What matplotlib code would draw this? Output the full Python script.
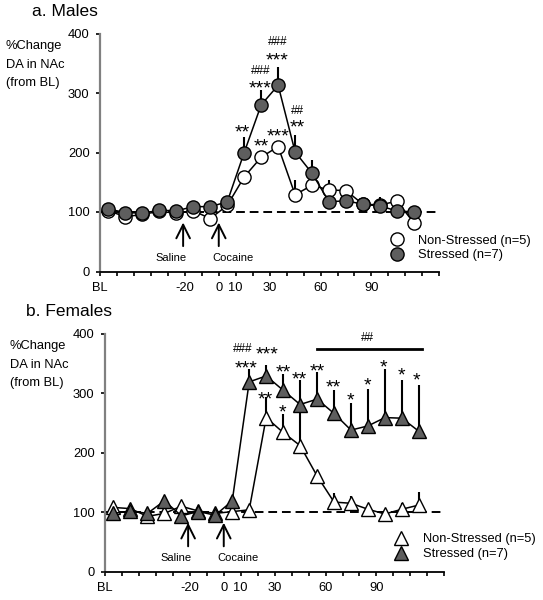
import numpy as np
import matplotlib.pyplot as plt
from matplotlib.transforms import offset_copy

plt.rcParams['font.family'] = ['Liberation Sans', 'DejaVu Sans']

# sampling times (min), BL = baseline
times = [-65, -55, -45, -35, -25, -15, -5, 5, 15, 25, 35, 45, 55, 65, 75, 85, 95, 105, 115]
tick_pos = list(range(-70, 131, 10))
tick_labels = {-70: 'BL', -20: '-20', 0: '0', 10: '10', 30: '30', 60: '60', 90: '90'}
y_ticks = [0, 100, 200, 300, 400]

# a. Males
male_ctrl = [102, 92, 96, 101, 98, 102, 89, 111, 159, 192, 210, 129, 145, 137, 136, 113, 112, 118, 82]
male_ctrl_err = [3, 3, 3, 3, 3, 4, 4, 5, 6, 5, 8, 25, 15, 17, 8, 5, 5, 7, 5]
male_str = [105, 99, 98, 103, 102, 109, 109, 117, 200, 280, 313, 201, 165, 117, 119, 113, 110, 102, 100]
male_str_err = [3, 3, 3, 3, 3, 4, 4, 5, 26, 25, 31, 28, 22, 6, 6, 10, 16, 5, 5]

# b. Females
fem_ctrl = [108, 106, 93, 98, 110, 102, 98, 101, 104, 259, 234, 212, 161, 117, 115, 105, 97, 105, 112]
fem_ctrl_err = [3, 3, 3, 3, 3, 3, 3, 4, 5, 34, 31, 60, 6, 15, 13, 5, 4, 11, 22]
fem_str = [98, 102, 98, 119, 94, 101, 95, 119, 319, 329, 305, 281, 290, 266, 238, 245, 259, 258, 236]
fem_str_err = [3, 3, 3, 3, 3, 3, 3, 5, 22, 18, 27, 41, 46, 39, 46, 62, 81, 64, 78]

# significance marks: (x, y, text)
male_stars = [(13.7, 243, '**'), (24.5, 318, '***'), (34.5, 365, '***'), (46.5, 252, '**'),
              (25, 219, '**'), (34.7, 236, '***')]
male_hash = [(24.5, 337, '###'), (34.5, 385, '###'), (46.5, 269, '##')]
fem_stars = [(13.3, 352, '***'), (25.7, 374, '***'), (35.3, 345, '**'), (44.7, 332, '**'),
             (54.9, 347, '**'), (64.7, 319, '**'), (74.5, 298, '*'), (84.5, 323, '*'),
             (94.3, 353, '*'), (104.5, 339, '*'), (113.7, 331, '*'),
             (24.5, 299, '**'), (34.5, 277, '*')]
fem_hash = [(11.4, 374, '###'), (84.9, 392, '##')]
fem_bar = (55, 117, 374)

saline_x, cocaine_x = -21, 0

W, H = 543, 600
fig = plt.figure(figsize=(W / 100, H / 100), dpi=100)
ax1 = fig.add_axes([100 / W, 1 - 271.5 / H, 339.3 / W, 238 / H])
ax2 = fig.add_axes([105 / W, 1 - 571.7 / H, 339.3 / W, 238 / H])

grey = '#5e5e5e'


def panel(ax, ctrl, ctrl_err, stress, stress_err, marker, title, tx, ty, lx, ly, legx, legy):
    ax.axhline(100, color='k', lw=1.4, dashes=(4.5, 2.5), zorder=1)
    zeros = np.zeros(len(times))
    ax.errorbar(times, ctrl, yerr=[zeros, ctrl_err], fmt='none', ecolor='k',
                elinewidth=1.5, capsize=0, zorder=2)
    h1, = ax.plot(times, ctrl, color='k', lw=1.1, marker=marker, ms=9.5,
                  mfc='white', mec='k', mew=1.0, zorder=3, label='Non-Stressed (n=5)')
    ax.errorbar(times, stress, yerr=[zeros, stress_err], fmt='none', ecolor='k',
                elinewidth=1.5, capsize=0, zorder=4)
    h2, = ax.plot(times, stress, color='k', lw=1.1, marker=marker, ms=9.5,
                  mfc=grey, mec='k', mew=1.0, zorder=5, label='Stressed (n=7)')

    ax.set_xlim(-70, 130)
    ax.set_ylim(0, 400)
    ax.set_xticks(tick_pos)
    ax.set_xticklabels([tick_labels.get(t, '') for t in tick_pos])
    ax.set_yticks(y_ticks)
    ax.tick_params(direction='out', length=3, width=1.2, labelsize=9.3, pad=4.5)
    for s in ['top', 'right']:
        ax.spines[s].set_visible(False)
    ax.spines['left'].set_color('#808080')
    ax.spines['left'].set_linewidth(1.6)
    ax.spines['bottom'].set_linewidth(1.3)

    for x in [saline_x, cocaine_x]:
        ax.annotate('', xy=(x, 87), xytext=(x, 38),
                    arrowprops=dict(arrowstyle='->,head_width=0.35,head_length=0.7',
                                    lw=1.4, color='k', mutation_scale=14))
    ax.text(-28, 23, 'Saline', ha='center', va='center', fontsize=8)
    ax.text(8.6, 23, 'Cocaine', ha='center', va='center', fontsize=8)

    fig.text(tx / W, 1 - ty / H, title, fontsize=12.5, ha='left', va='center')
    for i, line in enumerate(['%Change', 'DA in NAc', '(from BL)']):
        fig.text(lx / W, 1 - (ly + 18.6 * i) / H, line, fontsize=9.3, ha='left', va='center')

    leg = ax.legend(handles=[h1, h2], loc='center left', frameon=False, fontsize=9.3,
                    bbox_to_anchor=(legx / W, 1 - legy / H), bbox_transform=fig.transFigure,
                    handlelength=1.0, handletextpad=1.15, labelspacing=0.2, borderpad=0,
                    borderaxespad=0, numpoints=1)
    for lh in leg.get_lines():
        lh.set_linestyle('none')
    return ax


panel(ax1, male_ctrl, male_ctrl_err, male_str, male_str_err, 'o',
      'a. Males', 32, 12, 5.5, 46, 390.2, 248)
panel(ax2, fem_ctrl, fem_ctrl_err, fem_str, fem_str_err, '^',
      'b. Females', 26, 311, 10, 346, 395, 546.7)

star_tr1 = offset_copy(ax1.transData, fig=fig, y=-4.5, units='points')
star_tr2 = offset_copy(ax2.transData, fig=fig, y=-4.5, units='points')
for x, y, s in male_stars:
    ax1.text(x, y, s, transform=star_tr1, ha='center', va='center', fontsize=14)
for x, y, s in male_hash:
    ax1.text(x, y, s, ha='center', va='center', fontsize=8.5)
for x, y, s in fem_stars:
    ax2.text(x, y, s, transform=star_tr2, ha='center', va='center', fontsize=14)
for x, y, s in fem_hash:
    ax2.text(x, y, s, ha='center', va='center', fontsize=8.5)
ax2.plot([fem_bar[0], fem_bar[1]], [fem_bar[2], fem_bar[2]], color='k', lw=2.0)

fig.savefig('out.png', dpi=100)
